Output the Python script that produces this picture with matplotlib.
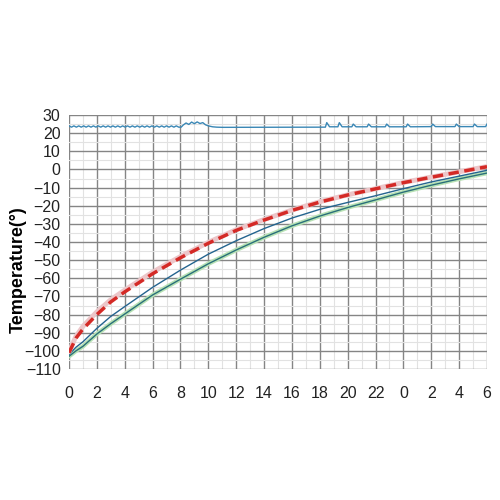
import numpy as np
import matplotlib.pyplot as plt
from matplotlib.ticker import MultipleLocator

plt.rcParams['font.family'] = ['Liberation Sans', 'DejaVu Sans']

# hours since start of the test
hours = [0, 0.5, 1, 2, 3, 4, 6, 8, 10, 12, 14, 16, 18, 20, 22, 24, 26, 28, 30]

# probe curves (°)
red_vals = [-101, -93, -88, -80, -73, -67.5, -57.5, -48.7, -40.7, -33.6, -27.9, -22.6, -18, -14.1, -10.7, -7.3, -4.3, -1.4, 1.5]
pink_vals = [-100.5, -92, -86.5, -78.5, -71.8, -66.5, -56.6, -48, -40.2, -33.2, -27.6, -22.4, -17.8, -14, -10.6, -7.2, -4.2, -1.3, 1.6]
blue_vals = [-102, -98, -95, -87.6, -81, -75.6, -65, -55.5, -46.7, -39.3, -32.6, -26.8, -22, -18.2, -14.5, -10.6, -6.9, -3.7, -0.5]
green_vals = [-103, -100, -97.5, -90.7, -85, -79.7, -69.2, -60.5, -52, -44.4, -37.4, -31.1, -25.7, -21, -16.8, -12.5, -8.7, -5.2, -2]

# ambient probe
amb_t = [0.0, 0.18, 0.35, 0.53, 0.7, 0.88, 1.05, 1.23, 1.4, 1.58, 1.75, 1.93, 2.1, 2.28, 2.45,
         2.63, 2.8, 2.98, 3.15, 3.33, 3.5, 3.68, 3.85, 4.03, 4.2, 4.38, 4.55, 4.73, 4.9, 5.08,
         5.25, 5.43, 5.6, 5.78, 5.95, 6.13, 6.3, 6.48, 6.65, 6.83, 7.0, 7.18, 7.35, 7.53, 7.7,
         7.88, 8.05,
         8.2, 8.4, 8.6, 8.8, 9.0, 9.2, 9.4, 9.6, 9.8, 10.0, 10.3, 10.6, 11.0,
         18.4, 18.5, 18.7, 19.3, 19.4, 19.6, 20.3, 20.4, 20.6, 21.4, 21.5, 21.7,
         22.7, 22.8, 23.0, 24.2, 24.3, 24.5, 26.0, 26.1, 26.3, 27.7, 27.8, 28.0,
         29.0, 29.1, 29.3, 29.9, 30.0]
amb_v = [24.0, 23.3, 24.0, 23.3, 24.0, 23.3, 24.0, 23.3, 24.0, 23.3, 24.0, 23.3, 24.0, 23.3, 24.0,
         23.3, 24.0, 23.3, 24.0, 23.3, 24.0, 23.3, 24.0, 23.3, 24.0, 23.3, 24.0, 23.3, 24.0, 23.3,
         24.0, 23.3, 24.0, 23.3, 24.0, 23.3, 24.0, 23.3, 24.0, 23.3, 24.0, 23.3, 24.0, 23.3, 24.0,
         23.3, 23.3,
         24.5, 25.6, 24.8, 26.1, 25.2, 26.2, 25.3, 25.8, 24.6, 24.0, 23.5, 23.3, 23.2,
         23.3, 25.8, 23.5, 23.5, 25.8, 23.5, 23.5, 25.0, 23.5, 23.5, 25.0, 23.5,
         23.5, 25.0, 23.5, 23.5, 25.0, 23.5, 23.6, 25.0, 23.6, 23.6, 25.0, 23.6,
         23.6, 25.0, 23.6, 23.6, 25.0]

x_ticks = list(range(0, 31, 2))
x_labels = [str(h % 24) for h in x_ticks]

fig = plt.figure(figsize=(5, 5), dpi=100)
ax = fig.add_axes([0.138, 0.262, 0.836, 0.508])

ax.plot(amb_t, amb_v, color='#3a87b5', linewidth=1)

ax.plot(hours, green_vals, color='#b8e2b4', linewidth=3.2, solid_capstyle='round')
ax.plot(hours, green_vals, color='#2a6f7a', linewidth=1)
ax.plot(hours, blue_vals, color='#24648f', linewidth=1)
ax.plot(hours, pink_vals, color='#ecc6c9', linewidth=3.5, solid_capstyle='round')
ax.plot(hours, red_vals, color='#d42a26', linewidth=2.5, dashes=(3, 1.6))

ax.set_xlim(0, 30)
ax.set_ylim(-110, 30)
ax.set_xticks(x_ticks)
ax.set_xticklabels(x_labels)
ax.set_yticks(range(-110, 31, 10))
ax.xaxis.set_minor_locator(MultipleLocator(1))
ax.yaxis.set_minor_locator(MultipleLocator(5))

ax.grid(which='major', color='#858585', linewidth=1)
ax.grid(which='minor', color='#e2e2e2', linewidth=0.8)
ax.set_axisbelow(True)
ax.tick_params(which='both', length=0, labelsize=11.5, colors='#222222')
ax.tick_params(axis='x', pad=12)
ax.tick_params(axis='y', pad=6)
for s in ax.spines.values():
    s.set_visible(False)

ax.set_ylabel('Temperature(°)', fontsize=13, fontweight='bold')
ax.yaxis.set_label_coords(-0.10, 0.39)

fig.savefig('out.png', dpi=100)
